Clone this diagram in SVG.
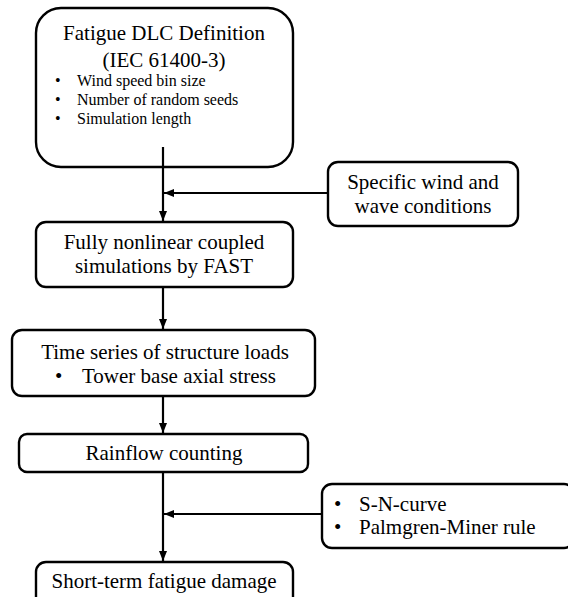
<svg xmlns="http://www.w3.org/2000/svg" width="568" height="597" viewBox="0 0 568 597">
<defs>
<marker id="ah" markerUnits="userSpaceOnUse" markerWidth="10" markerHeight="8" viewBox="0 0 10 8" refX="10" refY="4" orient="auto">
<path d="M0,0 L10,4 L0,8 Z" fill="#000"/>
</marker>
</defs>
<rect width="568" height="597" fill="#fff"/>
<g id="n1" fill="#fff" stroke="#000" stroke-width="2.4">
<rect x="36" y="8" width="257" height="159" rx="25"/>
</g>
<g id="n1-text" font-family="Liberation Serif" fill="#000">
<text font-size="21" text-anchor="middle" x="164" y="40">Fatigue DLC Definition</text>
<text font-size="21" text-anchor="middle" x="164" y="67">(IEC 61400-3)</text>
<text font-size="16" x="55" y="86">•</text>
<text font-size="16" x="77" y="86">Wind speed bin size</text>
<text font-size="16" x="55" y="105">•</text>
<text font-size="16" x="77" y="105">Number of random seeds</text>
<text font-size="16" x="55" y="124">•</text>
<text font-size="16" x="77" y="124">Simulation length</text>
</g>
<g id="n2">
<rect fill="#fff" stroke="#000" stroke-width="2.4" x="328" y="162" width="190" height="64" rx="10"/>
<text font-family="Liberation Serif" font-size="21" text-anchor="middle" x="423" y="189">Specific wind and</text>
<text font-family="Liberation Serif" font-size="21" text-anchor="middle" x="423" y="213">wave conditions</text>
</g>
<g id="n3">
<rect fill="#fff" stroke="#000" stroke-width="2.4" x="36" y="222" width="257" height="65" rx="10"/>
<text font-family="Liberation Serif" font-size="21" text-anchor="middle" x="164" y="249">Fully nonlinear coupled</text>
<text font-family="Liberation Serif" font-size="21" text-anchor="middle" x="164" y="273">simulations by FAST</text>
</g>
<g id="n4">
<rect fill="#fff" stroke="#000" stroke-width="2.4" x="12" y="330" width="303" height="66" rx="10"/>
<text font-family="Liberation Serif" font-size="21" text-anchor="middle" x="165" y="359">Time series of structure loads</text>
<text font-family="Liberation Serif" font-size="21" x="55" y="383">•</text>
<text font-family="Liberation Serif" font-size="21" x="82" y="383">Tower base axial stress</text>
</g>
<g id="n5">
<rect fill="#fff" stroke="#000" stroke-width="2.4" x="19" y="434" width="289" height="38" rx="8"/>
<text font-family="Liberation Serif" font-size="21" text-anchor="middle" x="164" y="460">Rainflow counting</text>
</g>
<g id="n6">
<rect fill="#fff" stroke="#000" stroke-width="2.4" x="322" y="484" width="252" height="64" rx="10"/>
<text font-family="Liberation Serif" font-size="21" x="334" y="511">•</text>
<text font-family="Liberation Serif" font-size="21" x="359" y="511">S-N-curve</text>
<text font-family="Liberation Serif" font-size="21" x="334" y="534">•</text>
<text font-family="Liberation Serif" font-size="21" x="359" y="534">Palmgren-Miner rule</text>
</g>
<g id="n7">
<rect fill="#fff" stroke="#000" stroke-width="2.4" x="36" y="562" width="257" height="45" rx="10"/>
<text font-family="Liberation Serif" font-size="21" text-anchor="middle" x="164" y="588">Short-term fatigue damage</text>
</g>
<g id="connectors" stroke="#000" stroke-width="2.2" fill="none">
<line x1="163" y1="147" x2="163" y2="221" marker-end="url(#ah)"/>
<line x1="328" y1="193" x2="164" y2="193" marker-end="url(#ah)"/>
<line x1="163" y1="287" x2="163" y2="329" marker-end="url(#ah)"/>
<line x1="163" y1="396" x2="163" y2="433" marker-end="url(#ah)"/>
<line x1="163" y1="472" x2="163" y2="561" marker-end="url(#ah)"/>
<line x1="322" y1="514" x2="164" y2="514" marker-end="url(#ah)"/>
</g>
</svg>
